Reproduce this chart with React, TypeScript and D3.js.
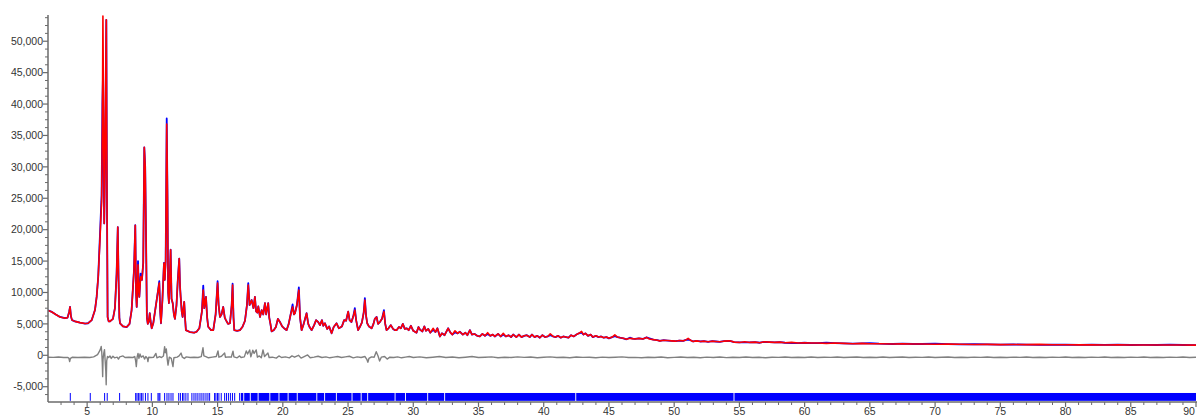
import React from "react";
import * as d3 from "d3";

// ---- Data (2θ in degrees, intensity in counts) ----
const calcLowAngle: [number, number][] = [
  [2.0, 7150], [2.3, 6900], [2.6, 6500], [2.92, 6100], [3.3, 5900], [3.5, 6000], [3.62, 6900], [3.69, 7700],
  [3.76, 6200], [3.84, 5600], [4.07, 5400], [4.45, 5200], [4.84, 5050], [5.07, 5100], [5.35, 5600], [5.6, 7200],
  [5.73, 9300], [5.85, 12500], [5.98, 18300], [6.11, 24500], [6.17, 37000], [6.21, 54000], [6.26, 38000],
  [6.31, 21000], [6.37, 30000], [6.47, 53400], [6.52, 25000], [6.57, 6100], [6.65, 5400], [6.75, 5400],
  [6.98, 5800], [7.13, 7500], [7.26, 13000], [7.35, 20400], [7.41, 12000], [7.47, 6000], [7.52, 5100],
  [7.75, 4600], [8.03, 4500], [8.25, 5000], [8.41, 7200], [8.59, 13500], [8.69, 20700], [8.75, 10000],
  [8.8, 7700], [8.86, 10500], [8.9, 14400], [8.95, 11000], [9.0, 9300], [9.1, 12500], [9.2, 12000],
  [9.3, 14700], [9.38, 33100], [9.45, 30000], [9.52, 18000], [9.58, 6000], [9.65, 5000], [9.72, 5300],
  [9.8, 6700], [9.86, 5500], [9.95, 4300], [10.07, 5100], [10.33, 8800], [10.45, 10500], [10.53, 11500],
  [10.6, 7000], [10.66, 5100], [10.77, 8800], [10.89, 14700], [10.95, 12000], [11.02, 15000], [11.1, 36800],
  [11.16, 25000], [11.21, 10000], [11.27, 8300], [11.33, 12000], [11.4, 16800], [11.47, 9000], [11.56, 8300],
  [11.65, 6500], [11.73, 5800], [11.85, 8000], [11.95, 12000], [12.06, 15400], [12.12, 11000], [12.17, 9300],
  [12.25, 7000], [12.32, 6100], [12.44, 8500], [12.52, 5500], [12.57, 4000], [12.88, 3700], [13.2, 3600],
  [13.39, 3750], [13.6, 4300], [13.8, 7000], [13.9, 10400], [13.98, 7500], [14.05, 8500], [14.11, 9300],
  [14.2, 6000], [14.28, 4550], [14.5, 4000], [14.67, 4000], [14.85, 6500], [15.0, 11500], [15.08, 8000],
  [15.18, 6100], [15.3, 6500], [15.43, 7700], [15.55, 6000], [15.64, 5600], [15.8, 5000], [15.95, 5100],
  [16.08, 8000], [16.15, 11200], [16.22, 6000], [16.28, 4000], [16.5, 3900], [16.71, 4000], [16.9, 4500],
];

const calcMidAngle: [number, number][] = [
  [17.1, 5500], [17.25, 8000], [17.35, 11200], [17.45, 8000], [17.61, 8800], [17.75, 7500], [17.86, 9300],
  [17.95, 7000], [18.05, 6800], [18.12, 7800], [18.25, 6100], [18.38, 7200], [18.5, 6500], [18.63, 8300],
  [18.72, 6500], [18.88, 8300], [18.96, 6000], [19.05, 5000], [19.14, 3800], [19.3, 4000], [19.47, 4500],
  [19.62, 5800], [19.78, 5300], [19.95, 4600], [20.1, 4300], [20.29, 4000], [20.45, 5000], [20.6, 6500],
  [20.75, 7700], [20.85, 6500], [20.93, 6700], [21.08, 8000], [21.23, 10400], [21.32, 6000], [21.44, 4000],
  [21.6, 5000], [21.82, 6700], [21.95, 5000], [22.05, 4500], [22.21, 4000], [22.4, 4800], [22.55, 5600],
  [22.71, 5300], [22.85, 4800], [23.0, 5600], [23.1, 4700], [23.23, 5100], [23.4, 4200], [23.55, 4600],
  [23.74, 3500], [23.9, 4500], [24.12, 5100], [24.3, 4300], [24.53, 4600], [24.7, 5600], [24.85, 5500],
  [25.01, 6950], [25.12, 5600], [25.26, 5300], [25.4, 6200], [25.52, 7200], [25.62, 5600], [25.77, 4000],
  [25.9, 4500], [26.06, 5200], [26.2, 6800], [26.29, 8800], [26.38, 6300], [26.47, 5100], [26.6, 4600],
  [26.81, 4300], [26.95, 5000], [27.05, 5800], [27.19, 6100], [27.3, 5000], [27.44, 5300], [27.6, 5800],
  [27.75, 6950], [27.85, 5000], [27.95, 4000], [28.1, 4300], [28.28, 4800], [28.45, 4200], [28.6, 4000],
  [28.72, 4000], [28.9, 4500], [29.05, 4300], [29.2, 5000], [29.35, 4200], [29.49, 4300], [29.65, 4000],
  [29.82, 4700], [30.0, 3900], [30.25, 3600], [30.4, 4500], [30.51, 4100], [30.7, 3800], [30.85, 4600],
  [30.97, 3900], [31.15, 4200], [31.3, 3600], [31.53, 4300], [31.7, 3700], [31.85, 4300], [32.04, 3000],
  [32.2, 3500], [32.4, 3200], [32.67, 4300], [32.85, 3600], [33.0, 3300], [33.2, 3900], [33.4, 3500],
  [33.57, 3750], [33.8, 3300], [34.0, 3600], [34.15, 3200], [34.34, 4000], [34.5, 3300], [34.7, 3400],
  [34.9, 3100], [35.1, 3000], [35.3, 3400], [35.5, 3100], [35.7, 3600], [35.9, 3100], [36.1, 3300],
  [36.25, 3000], [36.5, 3400], [36.7, 3000], [36.9, 3500], [37.1, 3000], [37.3, 3200], [37.5, 2900],
  [37.66, 3300], [37.9, 2900], [38.1, 3300], [38.3, 2900], [38.5, 3100], [38.7, 3200], [38.93, 2900],
  [39.1, 3300], [39.3, 2900], [39.5, 3100], [39.7, 2800], [39.9, 3200], [40.1, 2900], [40.3, 3000],
  [40.5, 3400], [40.72, 3000], [40.9, 2900], [41.1, 3100], [41.3, 2800], [41.5, 3000], [41.7, 2900],
  [41.9, 2800], [42.1, 3200], [42.3, 3000], [42.51, 3300], [42.7, 3500], [42.9, 3800], [43.05, 3300],
  [43.2, 3500], [43.4, 3100], [43.6, 3300], [43.76, 2900], [44.0, 3100], [44.2, 2900], [44.4, 3000],
  [44.6, 2800], [44.8, 2900], [45.0, 2700], [45.25, 2900], [45.45, 3250], [45.65, 2900], [45.85, 2800],
];

const calcHighAngle: [number, number][] = [
  [46.1, 2700], [46.34, 2550], [46.6, 2700], [46.8, 2650], [47.0, 2600], [47.3, 2700], [47.6, 2600],
  [47.88, 2850], [48.1, 2600], [48.4, 2500], [48.7, 2400], [48.9, 2300], [49.2, 2400], [49.5, 2350],
  [49.8, 2300], [50.1, 2250], [50.4, 2350], [50.7, 2300], [50.9, 2450], [51.07, 2700], [51.25, 2400],
  [51.45, 2200], [51.7, 2300], [52.0, 2200], [52.3, 2250], [52.6, 2150], [52.9, 2250], [53.2, 2200],
  [53.5, 2150], [53.8, 2250], [54.26, 2300], [54.6, 2100], [55.0, 2050], [55.4, 2150], [55.8, 2050],
  [56.2, 2100], [56.56, 2000], [56.9, 2150], [57.3, 2100], [57.7, 2050], [58.1, 2100], [58.5, 2000],
  [59.0, 2050], [59.5, 1950], [60.0, 2000], [60.5, 1950], [61.0, 1950], [61.67, 1900], [62.3, 1950],
  [63.0, 1900], [63.7, 1850], [64.4, 1900], [65.0, 1850], [65.7, 1850], [66.75, 1800], [67.5, 1850],
  [68.3, 1800], [69.0, 1800], [70.0, 1750], [71.0, 1780], [71.89, 1750], [73.0, 1720], [74.0, 1740],
  [75.0, 1700], [76.0, 1720], [77.0, 1700], [78.0, 1740], [79.0, 1690], [80.0, 1680], [81.08, 1660],
  [82.0, 1680], [83.0, 1650], [84.0, 1660], [85.0, 1640], [86.0, 1650], [87.0, 1640], [88.0, 1630],
  [89.0, 1640], [90.0, 1620],
];

// Observed intensities where they visibly differ from the calculated profile
const obsDifferences: [number, number][] = [
  [5.98, 19000], [6.11, 25500], [6.17, 40000], [6.21, 44000], [6.26, 30000], [8.9, 15000], [9.1, 13000],
  [10.53, 11800], [11.1, 37700], [13.9, 11100], [15.0, 11800], [16.15, 11400], [17.35, 11500],
  [20.75, 8100], [21.23, 10800], [25.52, 7500], [26.29, 9100], [27.75, 7200], [31.53, 4050], [33.2, 3650],
  [35.7, 3400], [36.9, 3300], [40.5, 3200], [42.9, 3600], [45.45, 3050], [46.6, 2800], [48.1, 2700],
  [51.07, 2500], [55.4, 2050], [59.0, 1950], [61.67, 2000], [65.0, 1920], [70.0, 1850], [73.0, 1790],
  [78.0, 1650], [84.0, 1710], [88.0, 1690],
];

const diffLowAngle: [number, number][] = [
  [2.0, -300], [2.4, -330], [2.8, -280], [3.2, -350], [3.5, -330], [3.6, -450], [3.66, -1000], [3.72, -500],
  [3.85, -320], [4.3, -360], [4.8, -300], [5.2, -350], [5.5, -250], [5.8, 100], [5.96, 700], [6.04, 1100],
  [6.08, 1400], [6.12, 500], [6.16, -1200], [6.19, -3400], [6.22, -600], [6.28, 400], [6.33, 900],
  [6.38, -800], [6.43, -2500], [6.46, -4700], [6.5, -900], [6.56, -200], [6.65, -350], [6.75, -100],
  [6.85, -500], [6.98, -150], [7.1, -400], [7.3, -300], [7.4, -600], [7.5, -250], [7.75, -100], [7.9, -350],
  [8.2, -300], [8.5, -350], [8.65, -200], [8.72, -900], [8.77, -1800], [8.83, -300], [8.9, 300], [8.97, -500],
  [9.05, 200], [9.15, -300], [9.3, -100], [9.4, -600], [9.5, -200], [9.62, -500], [9.66, -1000], [9.72, -300],
  [9.9, -350], [10.1, -300], [10.27, 300], [10.35, -400], [10.55, -200], [10.7, -350], [10.85, -100],
  [10.94, 1370], [10.99, 400], [11.07, 1000], [11.14, -600], [11.2, -1550], [11.3, -300], [11.45, -500],
  [11.58, -1800], [11.65, -400], [11.9, -300], [12.05, -100], [12.2, 350], [12.3, -300], [12.45, -500],
  [12.6, -250], [12.9, -350], [13.2, -300], [13.5, -350], [13.75, -200], [13.88, 1200], [13.95, -100],
  [14.1, -200], [14.3, -400], [14.6, -300], [14.9, -200], [15.03, 700], [15.1, -300], [15.3, -150],
  [15.54, 350], [15.6, -300], [15.9, -250], [16.05, -300], [16.18, 650], [16.25, -250], [16.5, -400],
  [16.69, -100], [16.8, -350], [17.05, -250], [17.2, 700], [17.3, 200], [17.46, 850], [17.55, -250],
  [17.7, 800], [17.8, 300], [17.96, 850], [18.05, -300], [18.2, -100], [18.35, -400], [18.48, 850],
  [18.6, -200], [18.86, 350], [18.95, -350], [19.2, -300], [19.5, -450], [19.7, -100], [19.9, -350],
  [20.2, -250], [20.5, -400], [20.7, -100], [20.9, -300], [21.2, 0], [21.4, -450], [21.6, -250], [21.9, 50],
  [22.1, -400], [22.4, -300], [22.7, -150], [23.0, -350], [23.3, -250], [23.6, -400], [23.9, -300],
  [24.2, -200], [24.5, -350], [24.8, -250], [25.1, -150], [25.4, -400], [25.7, -250], [26.0, -350],
  [26.3, -200], [26.45, -700], [26.52, -1100], [26.6, -500], [26.8, -250], [27.0, -300], [27.16, 570],
  [27.3, -100], [27.42, -900], [27.55, -300], [27.8, -200], [28.0, -600], [28.2, -300], [28.5, -350],
  [28.8, -250], [29.1, -400], [29.4, -300], [29.7, -200], [30.0, -350],
];

const diffHighAngle: [number, number][] = [
  [30.5, -250], [31.0, -400], [31.5, -300], [32.0, -200], [32.5, -350], [33.0, -280], [33.5, -400],
  [34.0, -300], [34.5, -200], [35.0, -350], [35.5, -300], [36.0, -250], [36.5, -400], [37.0, -300],
  [37.5, -350], [38.0, -250], [38.5, -330], [39.0, -280], [39.5, -380], [40.0, -300], [40.5, -250],
  [41.0, -350], [41.5, -300], [42.0, -400], [42.5, -280], [43.0, -330], [43.5, -300], [44.0, -380],
  [44.5, -290], [45.0, -350], [45.5, -300], [46.0, -250], [46.5, -350], [47.0, -330], [47.5, -400],
  [48.0, -300], [48.5, -350], [49.0, -280], [49.5, -380], [50.0, -330], [50.5, -260], [51.0, -360],
  [51.5, -300], [52.0, -380], [52.5, -290], [53.0, -340], [53.5, -270], [54.0, -370], [54.5, -300],
  [55.0, -340], [55.5, -270], [56.0, -360], [56.5, -310], [57.0, -380], [57.5, -300], [58.0, -330],
  [58.5, -270], [59.0, -350], [59.5, -300], [60.0, -340], [60.5, -280], [61.0, -350], [61.5, -300],
  [62.0, -330], [62.5, -270], [63.0, -350], [63.5, -310], [64.0, -280], [64.5, -350], [65.0, -300],
  [65.5, -340], [66.0, -280], [66.5, -350], [67.0, -310], [67.5, -270], [68.0, -350], [68.5, -300],
  [69.0, -330], [69.5, -280], [70.0, -350], [70.5, -310], [71.0, -270], [71.5, -340], [72.0, -300],
  [72.5, -350], [73.0, -290], [73.5, -330], [74.0, -270], [74.5, -340], [75.0, -300], [75.5, -350],
  [76.0, -290], [76.5, -330], [77.0, -280], [77.5, -340], [78.0, -300], [78.5, -350], [79.0, -290],
  [79.5, -330], [80.0, -280], [80.5, -340], [81.0, -300], [81.5, -350], [82.0, -290], [82.5, -330],
  [83.0, -280], [83.5, -340], [84.0, -300], [84.5, -350], [85.0, -290], [85.5, -330], [86.0, -280],
  [86.5, -340], [87.0, -300], [87.5, -350], [88.0, -290], [88.5, -330], [89.0, -280], [89.5, -340],
  [90.0, -300],
];

// Reflection positions (individual low-angle markers) and dense marker bands
const reflectionPositions: number[] = [
  3.71, 5.24, 6.34, 6.54, 7.49, 8.72, 8.82, 8.93, 9.05, 9.16, 9.28, 9.47, 9.66, 9.92, 10.43, 10.51, 10.58,
  10.94, 11.12, 11.27, 11.43, 11.58, 12.02, 12.15, 12.31, 12.42, 12.57, 12.73, 13.03, 13.19, 13.34, 13.49,
  13.65, 13.8, 13.95, 14.11, 14.26, 14.39, 14.77, 14.87, 14.99, 15.1, 15.28, 15.54, 15.68, 15.83, 15.98,
  16.14, 16.31, 16.69,
];
const reflectionBands: [number, number][] = [
  [16.78, 16.97], [17.04, 17.47], [17.54, 18.07], [18.14, 18.97], [19.04, 19.67], [19.74, 20.37],
  [20.44, 21.07], [21.14, 22.57], [22.64, 23.17], [23.24, 24.07], [24.14, 25.27], [25.34, 25.97],
  [26.04, 26.47], [26.54, 28.57], [28.64, 29.37], [29.44, 31.07], [31.14, 32.37], [32.44, 42.42],
  [42.49, 54.55], [54.62, 90.0],
];

const xMajorTicks = [5, 10, 15, 20, 25, 30, 35, 40, 45, 50, 55, 60, 65, 70, 75, 80, 85, 90];
const yMajorTicks = [-5000, 0, 5000, 10000, 15000, 20000, 25000, 30000, 35000, 40000, 45000, 50000];

// ---- Layout ----
const W = 1197;
const H = 416;
const PLOT_LEFT = 48;
const PLOT_RIGHT = 1196;
const PLOT_TOP = 15;
const PLOT_BOTTOM = 402;
const TICK_TOP_VALUE = -6000;
const TICK_BOTTOM_VALUE = -7250;

const fmt = d3.formatLocale({ decimal: ".", thousands: ",", grouping: [3], currency: ["", ""], minus: "-" }).format(",");

export default function App() {
  const x = d3.scaleLinear().domain([2, 90]).range([PLOT_LEFT, PLOT_RIGHT]);
  const y = d3.scaleLinear().domain([-7435, 54176]).range([PLOT_BOTTOM, PLOT_TOP]);

  const calc = [...calcLowAngle, ...calcMidAngle, ...calcHighAngle];
  const obsMap = new Map<number, number>(obsDifferences);
  const obs: [number, number][] = calc.map(([t, v]) => [t, obsMap.has(t) ? (obsMap.get(t) as number) : v]);
  const diff = [...diffLowAngle, ...diffHighAngle];

  const line = d3
    .line<[number, number]>()
    .x((d) => x(d[0]))
    .y((d) => y(d[1]));

  const xMinor = d3.range(3, 91, 1).filter((v) => v % 5 !== 0);
  const yMinor = d3.range(-6250, 54000, 1250).filter((v) => v % 5000 !== 0);

  const font = "'Liberation Sans', Arial, sans-serif";
  const axisColor = "#6b6b6b";
  const textColor = "#333";

  return (
    <svg
      width={W}
      height={H}
      style={{ position: "absolute", left: 0, top: 0, background: "#fff" }}
      fontFamily={font}
    >
      <defs>
        <clipPath id="plotClip">
          <rect x={PLOT_LEFT} y={PLOT_TOP - 1} width={W - PLOT_LEFT} height={PLOT_BOTTOM - PLOT_TOP + 1} />
        </clipPath>
      </defs>

      <g clipPath="url(#plotClip)">
        {/* reflection markers */}
        {reflectionPositions.map((p, i) => (
          <line
            key={"r" + i}
            x1={x(p)}
            x2={x(p)}
            y1={y(TICK_TOP_VALUE)}
            y2={y(TICK_BOTTOM_VALUE)}
            stroke="#0000ff"
            strokeWidth={1}
          />
        ))}
        {reflectionBands.map(([a, b], i) => (
          <rect
            key={"b" + i}
            x={x(a)}
            width={x(b) - x(a)}
            y={y(TICK_TOP_VALUE)}
            height={y(TICK_BOTTOM_VALUE) - y(TICK_TOP_VALUE)}
            fill="#0000ff"
          />
        ))}

        {/* difference curve */}
        <path d={line(diff) || ""} fill="none" stroke="#808080" strokeWidth={1.4} strokeLinejoin="round" />

        {/* observed */}
        <path d={line(obs) || ""} fill="none" stroke="#0000ff" strokeWidth={1.8} strokeLinejoin="round" />
        {/* calculated */}
        <path d={line(calc) || ""} fill="none" stroke="#ff0000" strokeWidth={1.6} strokeLinejoin="round" />
      </g>

      {/* Y axis */}
      <line x1={PLOT_LEFT} x2={PLOT_LEFT} y1={PLOT_TOP} y2={PLOT_BOTTOM} stroke={axisColor} strokeWidth={1.5} />
      {yMinor.map((v) => (
        <line key={"ym" + v} x1={PLOT_LEFT - 3} x2={PLOT_LEFT} y1={y(v)} y2={y(v)} stroke={axisColor} strokeWidth={1} />
      ))}
      {yMajorTicks.map((v) => (
        <g key={"y" + v}>
          <line x1={PLOT_LEFT - 5} x2={PLOT_LEFT} y1={y(v)} y2={y(v)} stroke={axisColor} strokeWidth={1.2} />
          <text x={PLOT_LEFT - 5} y={y(v)} dy="0.35em" textAnchor="end" fontSize={10.5} fill={textColor}>
            {fmt(v)}
          </text>
        </g>
      ))}

      {/* X axis */}
      <line x1={PLOT_LEFT} x2={W} y1={PLOT_BOTTOM} y2={PLOT_BOTTOM} stroke={axisColor} strokeWidth={1.5} />
      {xMinor.map((v) => (
        <line key={"xm" + v} x1={x(v)} x2={x(v)} y1={PLOT_BOTTOM} y2={PLOT_BOTTOM + 3} stroke={axisColor} strokeWidth={1} />
      ))}
      {xMajorTicks.map((v) => (
        <g key={"x" + v}>
          <line x1={x(v)} x2={x(v)} y1={PLOT_BOTTOM} y2={PLOT_BOTTOM + 5} stroke={axisColor} strokeWidth={1.2} />
          <text
            x={Math.min(x(v), W - 8)}
            y={PLOT_BOTTOM + 13}
            textAnchor="middle"
            fontSize={10.5}
            fill={textColor}
          >
            {v}
          </text>
        </g>
      ))}
    </svg>
  );
}
